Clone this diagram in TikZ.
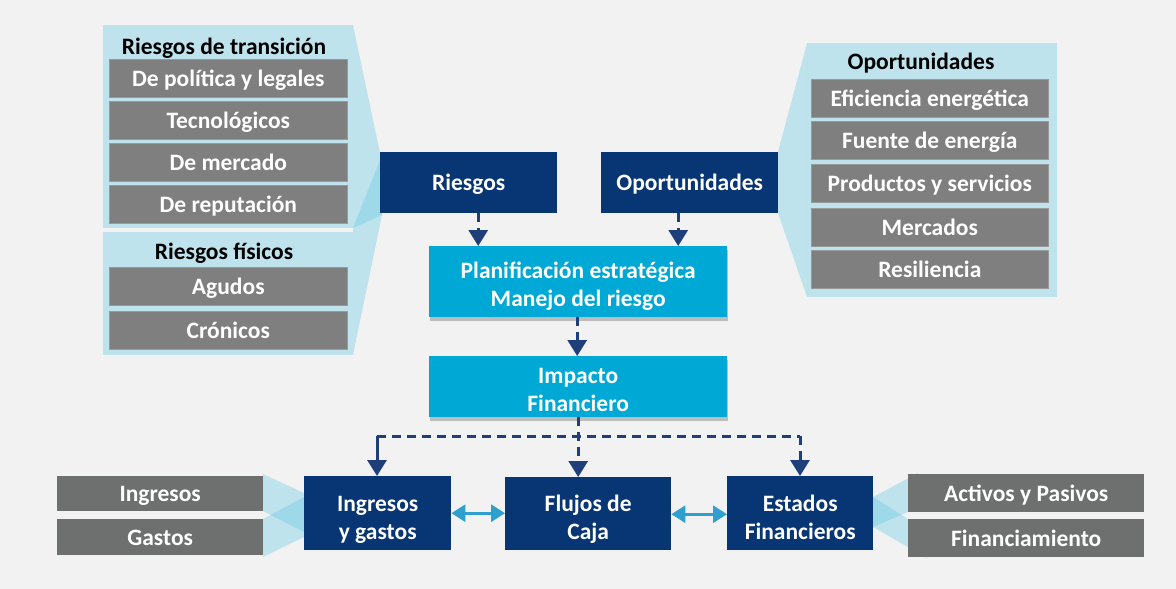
\documentclass[tikz,border=0pt]{standalone}
\usepackage{fontspec}
\setmainfont{Carlito}
\usetikzlibrary{arrows.meta,shadows,calc}
\definecolor{bg}{HTML}{F2F2F2}
\definecolor{panel}{HTML}{BFE3ED}
\definecolor{fun}{RGB}{89,197,227}
\definecolor{gboxc}{HTML}{7F7F7F}
\definecolor{gboxd}{HTML}{6D706F}
\definecolor{navy}{HTML}{083573}
\definecolor{cyanb}{HTML}{00A8D6}
\definecolor{arr}{HTML}{1F3F7A}
\definecolor{darr}{HTML}{2E9FCF}
\newcommand{\lift}[1]{\rule{0pt}{#1}}
\begin{document}
\begin{tikzpicture}[x=1pt,y=-1pt,
  txt/.style={font=\bfseries\fontsize{23.5}{28}\selectfont, align=center, inner sep=0pt, text=white},
  one/.style={text height=16pt, text depth=0pt},
  ttl/.style={txt, one, text=black},
  gbox/.style={txt, one, fill=gboxc, draw=gboxc!80!white, line width=0.6pt, minimum width=238pt, minimum height=38pt, anchor=north west},
  gboxb/.style={txt, one, fill=gboxd, minimum height=36pt, anchor=north west},
  nbox/.style={txt, fill=navy, anchor=north west},
  cbox/.style={txt, fill=cyanb, minimum width=298pt, anchor=north west,
     drop shadow={shadow xshift=1pt, shadow yshift=-4pt, fill=black, opacity=0.22}},
  funnel/.style={fill=fun, fill opacity=0.333},
  dasharrow/.style={draw=arr, line width=3pt, dash pattern=on 9pt off 6pt, -{Triangle[width=19pt,length=16pt]}},
  dashline/.style={draw=arr, line width=3pt, dash pattern=on 9pt off 6pt},
  dblarrow/.style={draw=darr, line width=3pt, {Triangle[width=17pt,length=14pt]}-{Triangle[width=17pt,length=14pt]}}
]
\useasboundingbox (0,0) rectangle (1176,589);
\fill[bg] (0,0) rectangle (1176,589);

% panels
\fill[panel] (103,25) rectangle (353,228);
\fill[panel] (103,232) rectangle (353,355);
\fill[panel] (807,43) rectangle (1057,297);

% funnels
\fill[funnel] (353,25) -- (380,153) -- (382,215) -- (353,228) -- cycle;
\fill[funnel] (353,228) -- (380,160) -- (382,215) -- (353,355) -- cycle;
\fill[funnel] (778,152) -- (807,43) -- (807,297) -- (778,213) -- cycle;
\fill[funnel] (263,474) -- (304,493) -- (304,532) -- (263,511) -- cycle;
\fill[funnel] (263,519) -- (304,497) -- (304,537) -- (263,557) -- cycle;
\fill[funnel] (873,497) -- (918,473) -- (908,512) -- (873,527) -- cycle;
\fill[funnel] (873,497) -- (908,519) -- (927,558) -- (873,527) -- cycle;

% titles
\node[ttl] (t1) at (224,46) {Riesgos de transición};
\node[ttl] (t2) at (224,251) {Riesgos físicos};
\node[ttl] (t3) at (921,61) {Oportunidades};

% left gray boxes
\node[gbox] (pol) at (109,59) {De política y legales};
\node[gbox] (tec) at (109,101) {\lift{20pt}Tecnológicos};
\node[gbox] (mer) at (109,143) {De mercado};
\node[gbox] (rep) at (109,185) {De reputación};
\node[gbox] (agu) at (109,267) {Agudos};
\node[gbox] (cro) at (109,311) {Crónicos};

% right gray boxes
\node[gbox, minimum width=237pt] (efi) at (811,79) {Eficiencia energética};
\node[gbox, minimum width=237pt] (fue) at (811,121) {Fuente de energía};
\node[gbox, minimum width=237pt] (pro) at (811,164) {Productos y servicios};
\node[gbox, minimum width=237pt] (mcd) at (811,208) {Mercados};
\node[gbox, minimum width=237pt] (res) at (811,250) {Resiliencia};

% navy top boxes
\node[nbox, one, minimum width=177pt, minimum height=61pt] (rie) at (380,152) {Riesgos};
\node[nbox, one, minimum width=177pt, minimum height=61pt] (opo) at (601,152) {\lift{20pt}Oportunidades};

% cyan boxes
\node[cbox, minimum height=71pt] (pla) at (429,246) {\lift{26pt}Planificación estratégica\\Manejo del riesgo};
\node[cbox, minimum height=61pt] (imp) at (429,356) {\lift{21pt}Impacto\\Financiero};

% bottom navy boxes
\node[nbox, minimum width=147pt, minimum height=74pt] (ing) at (304,476) {\lift{28pt}Ingresos\\y gastos};
\node[nbox, minimum width=166pt, minimum height=73pt] (flu) at (505,477) {\lift{28pt}Flujos de\\Caja};
\node[nbox, minimum width=146pt, minimum height=74pt] (est) at (727,476) {\lift{24pt}Estados\\Financieros};

% bottom gray boxes
\node[gboxb, minimum width=206pt, minimum height=35pt] (ingr) at (57,476) {Ingresos};
\node[gboxb, minimum width=206pt] (gas) at (57,519) {Gastos};
\node[gboxb, minimum width=236pt, minimum height=38pt] (act) at (908,474) {Activos y Pasivos};
\node[gboxb, minimum width=236pt, minimum height=38pt] (fin) at (908,519) {Financiamiento};

% arrows top
\draw[dasharrow] ([xshift=9.5pt]rie.south) -- ([xshift=9.5pt]rie.south |- pla.north);
\draw[dasharrow] ([xshift=-11.5pt]opo.south) -- ([xshift=-11.5pt]opo.south |- pla.north);
\draw[dasharrow] ([xshift=-1pt]pla.south) -- ([xshift=-1pt]pla.south |- imp.north);

% distribution
\coordinate (hl) at (377,436);
\coordinate (hr) at (800,436);
\draw[dashline] (hl) -- (hr);
\draw[dasharrow] (imp.south) -- (imp.south |- flu.north);
\draw[dasharrow, dash pattern=on 9pt off 0pt] (hl) -- (hl |- ing.north);
\draw[dasharrow] (hr) -- (hr |- est.north);

% double arrows
\draw[dblarrow] (ing.east) -- (ing.east -| flu.west);
\draw[dblarrow] ([yshift=-1pt]est.west -| flu.east) -- ([yshift=-1pt]est.west);
\end{tikzpicture}
\end{document}
